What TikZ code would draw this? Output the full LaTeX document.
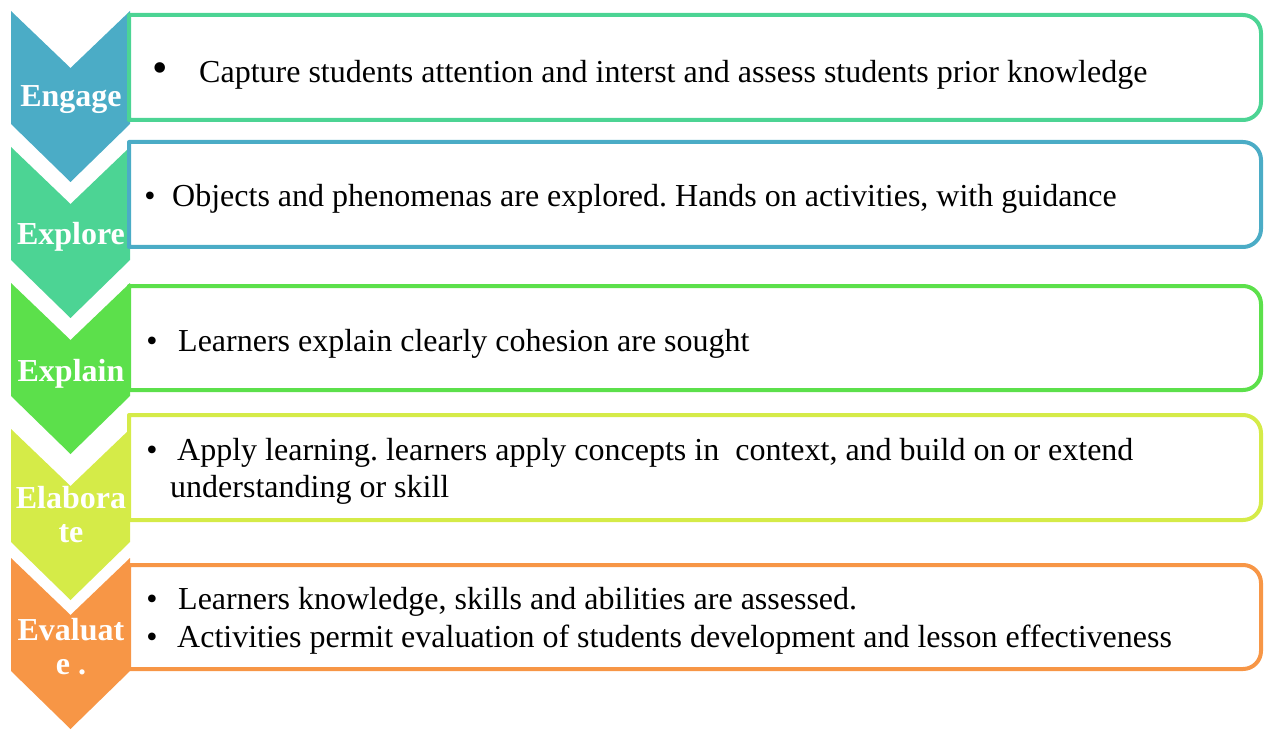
\documentclass[tikz,border=0pt]{standalone}
\usepackage{fontspec}
\setmainfont{Liberation Serif}
\frenchspacing
\definecolor{engageblue}{HTML}{4BACC6}
\definecolor{exploregreen}{HTML}{4CD494}
\definecolor{explaingreen}{HTML}{5CE04B}
\definecolor{elaborateyellow}{HTML}{D5EB48}
\definecolor{evaluateorange}{HTML}{F79646}
% chevron: fill colour, top edge (px from top)
\newcommand{\chevronshape}[2]{%
  \fill[#1] (11,-#2) -- (70.5,{-(#2)-57}) -- (130,-#2) -- (130,{-(#2)-113})
    -- (70.5,{-(#2)-171}) -- (11,{-(#2)-113}) -- cycle;}
% text panel: border colour, top, bottom (px from top); square left, round right
\newcommand{\stagepanel}[3]{%
  \draw[panelline, draw=#1] (129,-#2) -- (1243,-#2)
    arc[start angle=90, end angle=0, radius=18pt] -- (1261,{-(#3)+18})
    arc[start angle=0, end angle=-90, radius=18pt] -- (129,-#3) -- cycle;}
\tikzset{
  panelline/.style={line width=4pt, line join=round},
  stagelabel/.style={anchor=base, inner sep=0pt, text=white, align=center,
    font=\fontsize{32}{34}\selectfont\bfseries},
  bodytext/.style={anchor=base west, inner sep=0pt,
    font=\fontsize{32}{38}\selectfont},
  bulletmark/.style={anchor=base, inner sep=0pt,
    font=\fontsize{32}{38}\selectfont},
}
\begin{document}
\begin{tikzpicture}[x=1pt, y=1pt]
  \useasboundingbox (0,0) rectangle (1264,-730);

  % chevrons down the left side
  \chevronshape{engageblue}{11}
  \chevronshape{exploregreen}{147}
  \chevronshape{explaingreen}{283}
  \chevronshape{elaborateyellow}{429}
  \chevronshape{evaluateorange}{558}

  % text panels
  \stagepanel{exploregreen}{15}{120}
  \stagepanel{engageblue}{142}{247}
  \stagepanel{explaingreen}{286}{390}
  \stagepanel{elaborateyellow}{415}{520}
  \stagepanel{evaluateorange}{565}{669}

  % stage names (base anchor sits on the last line)
  \node[stagelabel] (engage) at (71,-107) {Engage};
  \node[stagelabel] (explore) at (71,-244) {Explore};
  \node[stagelabel] (explain) at (71,-381) {Explain};
  \node[stagelabel] (elaborate) at (71,-542) {Elabora\\te};
  \node[stagelabel] (evaluate) at (71,-674) {Evaluat\\e .};

  % engage
  \node[bulletmark, font=\fontsize{44}{44}\selectfont] (b1) at (160,-83) {\textbullet};
  \node[bodytext] (t1) at (199,-83)
    {Capture students attention and interst and assess students prior knowledge};

  % explore
  \node[bulletmark] (b2) at (150,-207) {\textbullet};
  \node[bodytext] (t2) at (172,-207)
    {Objects and phenomenas are explored. Hands on activities, with guidance};

  % explain
  \node[bulletmark] (b3) at (152,-351) {\textbullet};
  \node[bodytext] (t3) at (178,-351) {Learners explain clearly cohesion are sought};

  % elaborate
  \node[bulletmark] (b4) at (152,-460) {\textbullet};
  \node[bodytext] (t4) at (177,-460)
    {Apply learning. learners apply concepts in~ context, and build on or extend};
  \node[bodytext] (t4b) at (170,-497) {understanding or skill};

  % evaluate
  \node[bulletmark] (b5) at (152,-609) {\textbullet};
  \node[bodytext] (t5) at (178,-609) {Learners knowledge, skills and abilities are assessed.};
  \node[bulletmark] (b6) at (152,-647) {\textbullet};
  \node[bodytext] (t6) at (177,-647)
    {Activities permit evaluation of students development and lesson effectiveness};
\end{tikzpicture}
\end{document}
